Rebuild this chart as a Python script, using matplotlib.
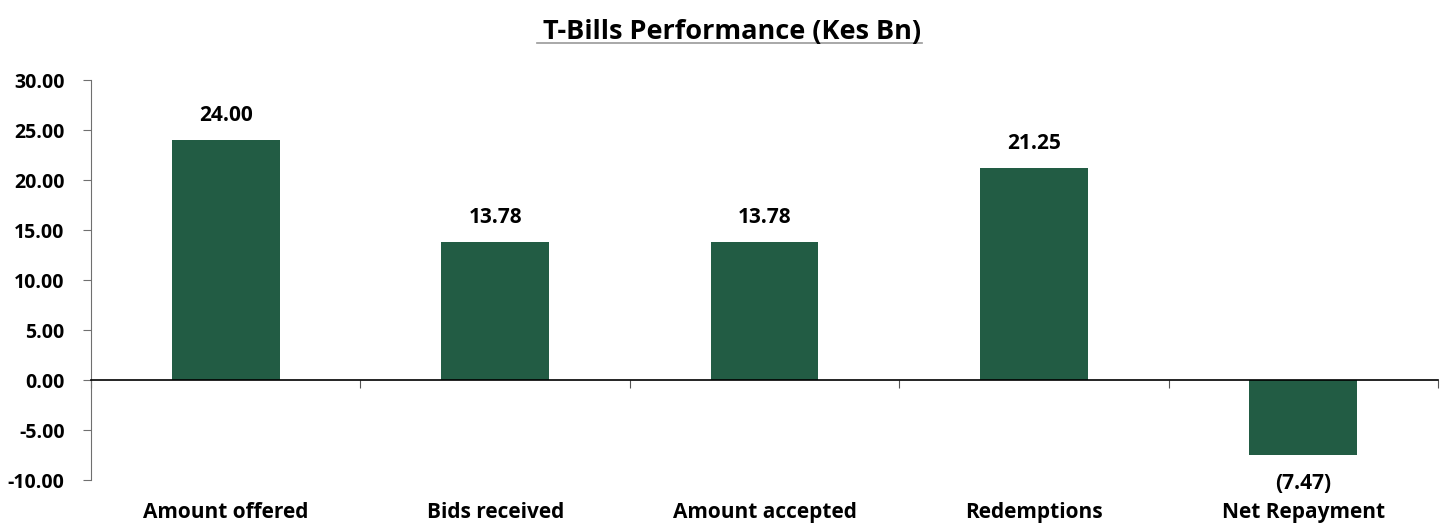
import matplotlib.pyplot as plt
from matplotlib.lines import Line2D
import matplotlib.transforms as mtransforms
import numpy as np

plt.rcParams['font.family'] = ['Open Sans', 'DejaVu Sans']

categories = ['Amount offered', 'Bids received', 'Amount accepted', 'Redemptions', 'Net Repayment']
values = [24.00, 13.78, 13.78, 21.25, -7.47]
bar_color = '#225C44'


def fmt(v):
    return f'({abs(v):.2f})' if v < 0 else f'{v:.2f}'


fig = plt.figure(figsize=(14.46, 5.23), dpi=100)
ax = fig.add_axes([0.063, 0.082, 0.9315, 0.765])

x = np.arange(len(categories))
ax.bar(x, values, width=0.4, color=bar_color, zorder=2)
ax.set_xlim(-0.5, len(categories) - 0.5)
ax.set_ylim(-10, 30)
ax.set_yticks(np.arange(-10, 31, 5))
ax.set_yticklabels([f'{t:.2f}' for t in np.arange(-10, 31, 5)], fontsize=14, fontweight='bold')

# x axis at zero with ticks between categories
ax.spines['bottom'].set_position(('data', 0))
ax.spines['bottom'].set_color('black')
ax.spines['bottom'].set_linewidth(1.2)
ax.spines['top'].set_visible(False)
ax.spines['right'].set_visible(False)
ax.spines['left'].set_color('#6f6f6f')
ax.set_xticks(np.arange(-0.5, len(categories), 1.0))
ax.set_xticklabels([])
ax.tick_params(axis='x', direction='out', length=6, color='#555555')
ax.tick_params(axis='y', direction='out', length=6, color='#6f6f6f', pad=13)

trans = mtransforms.blended_transform_factory(ax.transData, ax.transAxes)
for xi, name in zip(x, categories):
    ax.text(xi, -0.082, name, transform=trans, ha='center', va='center',
            fontsize=15, fontweight='bold')

for xi, v in zip(x, values):
    if v >= 0:
        ax.text(xi, v + 1.4, fmt(v), ha='center', va='bottom', fontsize=15, fontweight='bold')
    else:
        ax.text(xi, v - 1.8, fmt(v), ha='center', va='top', fontsize=15, fontweight='bold')

title = 'T-Bills Performance (Kes Bn)'
fig.text(0.506, 0.938, title, ha='center', va='center', fontsize=19.5, fontweight='bold')
fig.add_artist(Line2D([537 / 1446, 922 / 1446], [1 - 43 / 523, 1 - 43 / 523],
                      transform=fig.transFigure, color='#999999', linewidth=1.2))

fig.savefig('out.png', dpi=100)
